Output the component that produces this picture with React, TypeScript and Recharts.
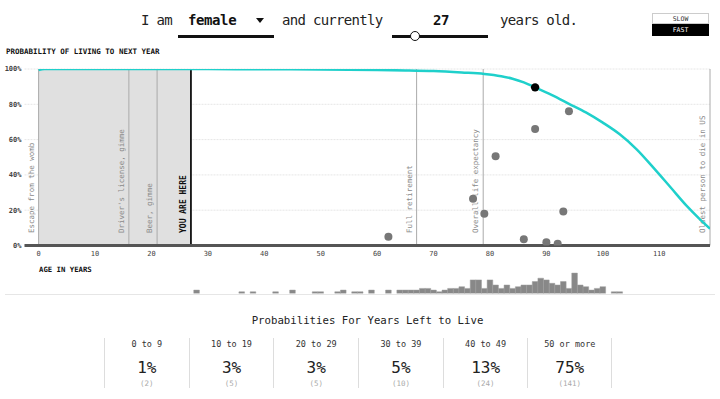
import React from 'react';
import {
  ComposedChart,
  Line,
  XAxis,
  YAxis,
  CartesianGrid,
  ReferenceLine,
  ReferenceArea,
  Scatter,
  BarChart,
  Bar,
} from 'recharts';

const MONO = '"DejaVu Sans Mono", monospace';

// survival curve: probability of living to next year, by age
const curveAges = [0, 1, 5, 10, 20, 30, 40, 50, 60, 65, 70, 75, 79, 82, 84, 86, 88, 91, 94, 97, 100, 103, 106, 109, 112, 115, 117, 119];
const curveProb = [99.4, 99.95, 99.98, 99.99, 99.96, 99.93, 99.85, 99.75, 99.45, 99.2, 98.8, 98.0, 97.2, 95.9, 94.5, 92.4, 89.6, 85.2, 80.3, 75.4, 69.6, 63, 54.5, 44, 33, 22, 15.5, 9.5];

// simulated deaths (grey dots)
const dotAges = [62, 77, 79, 81, 86, 88, 90, 92, 93, 94];
const dotProb = [5, 26.5, 18, 50.6, 3.6, 66, 1.9, 1, 19.3, 76];

// current person
const currentAge = [88];
const currentProb = [89.6];

// markers
const markerAges = [0, 16, 21, 27, 67, 78.8, 119];
const markerLabels = [
  'Escape from the womb',
  "Driver's license, gimme",
  'Beer, gimme',
  'YOU ARE HERE',
  'Full retirement',
  'Overall life expectancy',
  'Oldest person to die in US',
];
const youAreHere = 27;

// histogram of simulated ages at death
const histAges = [28, 36, 38, 42, 45, 49, 50, 53, 54, 56, 57, 59, 62, 64, 65, 66, 67, 68, 69, 70, 71, 72, 73, 74, 75, 76, 77, 78, 79, 80, 81, 82, 83, 84, 85, 86, 87, 88, 89, 90, 91, 92, 93, 94, 95, 96, 97, 98, 99, 100, 102, 103];
const histCounts = [2, 1, 1, 1, 2, 1, 1, 1, 2, 1, 1, 2, 2, 2, 2, 2, 2, 3, 3, 2, 1, 2, 3, 3, 4, 3, 8, 8, 3, 8, 5, 3, 5, 3, 4, 5, 5, 7, 9, 8, 6, 5, 7, 3, 12, 5, 4, 2, 3, 4, 1, 1];

const xTicks = [0, 10, 20, 30, 40, 50, 60, 70, 80, 90, 100, 110];
const yTicks = [0, 20, 40, 60, 80, 100];

// table
const bucketLabels = ['0 to 9', '10 to 19', '20 to 29', '30 to 39', '40 to 49', '50 or more'];
const bucketPct = [1, 3, 3, 5, 13, 75];
const bucketCount = [2, 5, 5, 10, 24, 141];

const curveData = curveAges.map((a, i) => ({ age: a, p: curveProb[i] }));
const dotData = dotAges.map((a, i) => ({ age: a, p: dotProb[i] }));
const currentData = currentAge.map((a, i) => ({ age: a, p: currentProb[i] }));
const histData = histAges.map((a, i) => ({ age: a, n: histCounts[i] }));

const VLabel = (props: any) => {
  const { viewBox, text, bold } = props;
  if (!viewBox) return null;
  const x = viewBox.x - 5;
  const y = viewBox.y + viewBox.height - 12.5;
  return (
    <text
      x={x}
      y={y}
      transform={`rotate(-90 ${x} ${y})`}
      fontFamily={MONO}
      fontSize={bold ? 8 : 7.5}
      fontWeight={bold ? 'bold' : 'normal'}
      fill={bold ? '#111' : '#8a8a8a'}
      textAnchor="start"
    >
      {text}
    </text>
  );
};

const GreyDot = (p: any) => <circle cx={p.cx} cy={p.cy} r={4} fill="#777" />;
const BlackDot = (p: any) => <circle cx={p.cx} cy={p.cy} r={4.2} fill="#000" />;

const txt = (extra: React.CSSProperties): React.CSSProperties => ({
  position: 'absolute',
  fontFamily: MONO,
  whiteSpace: 'nowrap',
  ...extra,
});

export default function App() {
  return (
    <div style={{ position: 'relative', width: 720, height: 399, background: '#fff', overflow: 'hidden' }}>
      <style>{`body{margin:0;}`}</style>

      {/* header */}
      <div style={txt({ left: 141, top: 11, fontSize: 14, lineHeight: '18px', letterSpacing: -0.7, color: '#222' })}>I am</div>
      <div style={txt({ left: 188, top: 11, fontSize: 14, lineHeight: '18px', letterSpacing: -0.4, color: '#111', fontWeight: 'bold' })}>female</div>
      <div style={{ position: 'absolute', left: 256, top: 18, width: 0, height: 0, borderLeft: '4px solid transparent', borderRight: '4px solid transparent', borderTop: '5px solid #111' }} />
      <div style={{ position: 'absolute', left: 178, top: 35, width: 96, height: 3, background: '#111' }} />
      <div style={txt({ left: 282, top: 11, fontSize: 14, lineHeight: '18px', letterSpacing: -0.7, color: '#222' })}>and currently</div>
      <div style={txt({ left: 433, top: 11, fontSize: 14, lineHeight: '18px', letterSpacing: -0.4, color: '#111', fontWeight: 'bold' })}>27</div>
      <div style={{ position: 'absolute', left: 392, top: 35, width: 96, height: 3, background: '#111' }} />
      <div style={{ position: 'absolute', left: 409.5, top: 30.5, width: 8, height: 8, borderRadius: '50%', border: '1.5px solid #111', background: '#fff' }} />
      <div style={txt({ left: 500, top: 11, fontSize: 14, lineHeight: '18px', letterSpacing: -0.7, color: '#222' })}>years old.</div>

      {/* speed buttons */}
      <div style={txt({ left: 652, top: 13, width: 57, height: 11, border: '1px solid #ccc', boxSizing: 'border-box', fontSize: 6.5, lineHeight: '10px', textAlign: 'center', color: '#333' })}>SLOW</div>
      <div style={txt({ left: 652, top: 24, width: 57, height: 12, background: '#000', fontSize: 6.5, lineHeight: '12px', textAlign: 'center', color: '#fff' })}>FAST</div>

      <div style={txt({ left: 6, top: 47, fontSize: 7.5, lineHeight: '10px', fontWeight: 'bold', color: '#111' })}>PROBABILITY OF LIVING TO NEXT YEAR</div>

      {/* main chart */}
      <div style={{ position: 'absolute', left: 0, top: 0 }}>
        <ComposedChart width={720} height={270} data={curveData} margin={{ top: 69, right: 10, bottom: 4.5, left: 0 }}>
          <CartesianGrid vertical={false} stroke="#e6e6e6" strokeDasharray="2 1" />
          <ReferenceArea x1={0} x2={youAreHere} y1={0} y2={100} fill="#e0e0e0" fillOpacity={1} stroke="none" />
          <XAxis
            dataKey="age"
            type="number"
            domain={[-2.5, 119]}
            allowDataOverflow
            ticks={xTicks}
            axisLine={{ stroke: '#555', strokeWidth: 3 }}
            tickLine={false}
            tickSize={0}
            tickMargin={6}
            height={20}
            tick={{ fontFamily: MONO, fontSize: 7, fill: '#444' }}
          />
          <YAxis
            type="number"
            domain={[0, 100]}
            ticks={yTicks}
            allowDataOverflow
            axisLine={false}
            tickLine={false}
            tickSize={0}
            tickMargin={3}
            width={24.5}
            tickFormatter={(v: number) => `${v}%`}
            tick={{ fontFamily: MONO, fontSize: 7, fill: '#444', fontWeight: 'bold' }}
          />
          {markerAges.map((a, i) => (
            <ReferenceLine
              key={i}
              x={a}
              stroke={a === youAreHere ? '#111' : '#aaa'}
              strokeWidth={a === youAreHere ? 1.8 : 1}
              label={<VLabel text={markerLabels[i]} bold={a === youAreHere} />}
            />
          ))}
          <Line dataKey="p" type="monotone" stroke="#1fd0cb" strokeWidth={2.5} dot={false} isAnimationActive={false} />
          <Scatter data={dotData} dataKey="p" shape={GreyDot} isAnimationActive={false} />
          <Scatter data={currentData} dataKey="p" shape={BlackDot} isAnimationActive={false} />
        </ComposedChart>
      </div>

      <div style={txt({ left: 39, top: 265, fontSize: 7.3, lineHeight: '10px', fontWeight: 'bold', color: '#111' })}>AGE IN YEARS</div>

      {/* histogram */}
      <div style={{ position: 'absolute', left: 0, top: 256 }}>
        <BarChart width={720} height={40} data={histData} margin={{ top: 3.5, right: 10, bottom: 2.5, left: 24.5 }} barCategoryGap={0} barGap={0}>
          <XAxis dataKey="age" type="number" domain={[-2.5, 119]} allowDataOverflow hide />
          <YAxis type="number" domain={[0, 20]} allowDataOverflow hide />
          <Bar dataKey="n" fill="#888" stroke="#9c9c9c" strokeWidth={0.5} barSize={5.64} isAnimationActive={false} />
        </BarChart>
      </div>
      <div style={{ position: 'absolute', left: 5, top: 294, width: 710, height: 1, background: '#e6e6e6' }} />

      {/* table */}
      <div style={txt({ left: 0, top: 314, width: 735, fontSize: 10.7, lineHeight: '14px', textAlign: 'center', color: '#222' })}>Probabilities For Years Left to Live</div>
      <div style={{ position: 'absolute', left: 104, top: 338, display: 'flex' }}>
        {bucketLabels.map((l, i) => (
          <div
            key={i}
            style={{
              width: 84.7,
              height: 50,
              boxSizing: 'border-box',
              borderLeft: '1px solid #ddd',
              borderRight: i === bucketLabels.length - 1 ? '1px solid #ddd' : 'none',
              position: 'relative',
              fontFamily: MONO,
              textAlign: 'center',
            }}
          >
            <div style={{ position: 'absolute', left: 0, right: 0, top: 1, fontSize: 8.5, lineHeight: '10px', color: '#333' }}>{l}</div>
            <div style={{ position: 'absolute', left: 0, right: 0, top: 20, fontSize: 16, lineHeight: '20px', color: '#222' }}>{bucketPct[i]}%</div>
            <div style={{ position: 'absolute', left: 0, right: 0, top: 41, fontSize: 7.5, lineHeight: '10px', color: '#aaa' }}>({bucketCount[i]})</div>
          </div>
        ))}
      </div>
    </div>
  );
}
